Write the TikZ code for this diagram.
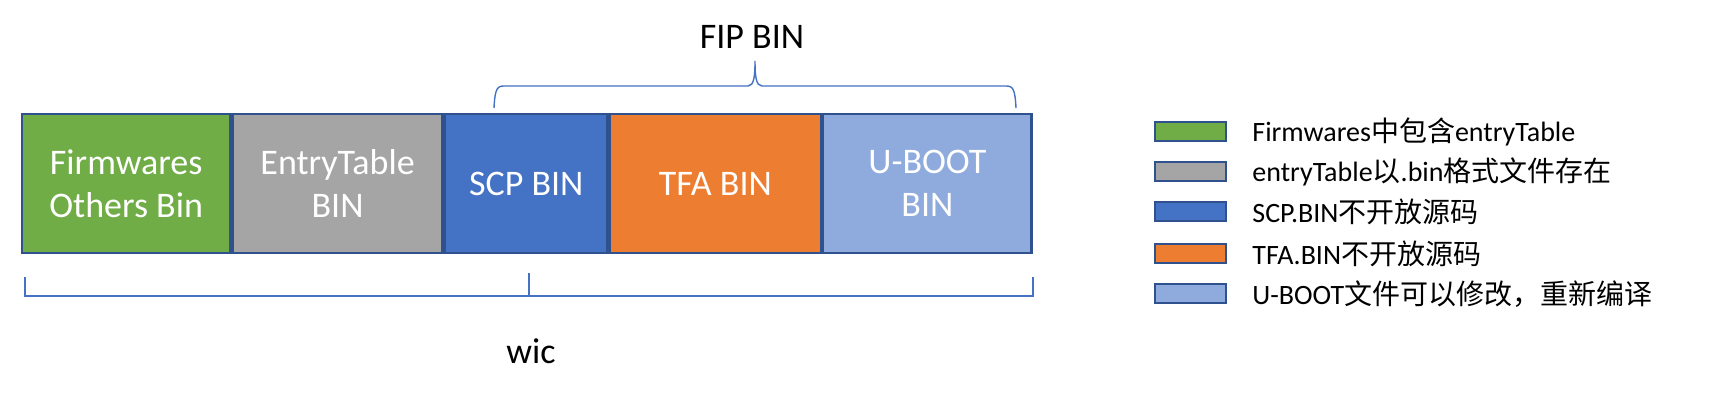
\documentclass[tikz,border=0pt]{standalone}
\usepackage{fontspec}
\setmainfont{Carlito}
\newfontfamily\cjk{Noto Sans CJK SC}
\usetikzlibrary{positioning}
\definecolor{ppgreen}{HTML}{70AD47}
\definecolor{ppgray}{HTML}{A5A5A5}
\definecolor{ppblue}{HTML}{4472C4}
\definecolor{pporange}{HTML}{ED7D31}
\definecolor{pplightblue}{HTML}{8FAADC}
\definecolor{ppedge}{HTML}{2F528F}

\tikzset{
  block/.style={draw=ppedge, line width=1.2pt, minimum height=69.5pt, text=white, align=center, inner sep=0pt, font=\fontsize{18}{21.5}\selectfont},
  legbox/.style={draw=ppedge, line width=1pt, minimum width=35.5pt, minimum height=9.5pt, inner sep=0pt},
  legtext/.style={inner sep=0pt, font=\fontsize{14}{16}\selectfont},
  bracket/.style={draw=ppblue, line width=0.7pt},
}

\begin{document}
\begin{tikzpicture}[x=0.5pt, y=-0.5pt]
        \useasboundingbox (0,0) rectangle (1732,415);
        % the bins, side by side
        \node[block, fill=ppgreen, minimum width=104pt, anchor=north west] (fw) at (21,113) {Firmwares\\Others Bin};
        \node[block, fill=ppgray, minimum width=105pt, right=0pt of fw] (et) {EntryTable\\BIN};
        \node[block, fill=ppblue, minimum width=81.3pt, right=0pt of et] (scp) {SCP BIN};
        \node[block, fill=pporange, minimum width=105.4pt, right=0pt of scp] (tfa) {TFA BIN};
        \node[block, fill=pplightblue, minimum width=104.2pt, right=0pt of tfa] (uboot) {U-BOOT\\BIN};
        % FIP BIN brace
        \draw[bracket] (494,108) .. controls (495,89) and (497,86) .. (504,86) -- (748,86)
            .. controls (754,86) and (755,76) .. (755,61) .. controls (755,76) and (756,86) .. (762,86)
            -- (1006,86) .. controls (1013,86) and (1015,89) .. (1016,108);
        \node[font=\fontsize{18}{21.5}\selectfont] (fip) at (752,37) {FIP BIN};
        % wic bracket
        \draw[bracket] (25,277) |- (1033,296) -- (1033,277);
        \draw[bracket] (529,296) -- (529,273);
        \node[font=\fontsize{18}{21.5}\selectfont] (wic) at (531,351) {wic};
        % legend
        \node[legbox, fill=ppgreen, anchor=west] (leg1) at (1154,132) {};
        \node[legbox, fill=ppgray, anchor=west] (leg2) at (1154,172) {};
        \node[legbox, fill=ppblue, anchor=west] (leg3) at (1154,212) {};
        \node[legbox, fill=pporange, anchor=west] (leg4) at (1154,254) {};
        \node[legbox, fill=pplightblue, anchor=west] (leg5) at (1154,294) {};
        \node[legtext, right=12.5pt of leg1] (legtxt1) {Firmwares{\cjk 中包含}entryTable};
        \node[legtext, right=12.5pt of leg2] (legtxt2) {entryTable{\cjk 以}.bin{\cjk 格式文件存在}};
        \node[legtext, right=12.5pt of leg3] (legtxt3) {SCP.BIN{\cjk 不开放源码}};
        \node[legtext, right=12.5pt of leg4] (legtxt4) {TFA.BIN{\cjk 不开放源码}};
        \node[legtext, right=12.5pt of leg5] (legtxt5) {U-BOOT{\cjk 文件可以修改，重新编译}};
    \end{tikzpicture}
\end{document}
